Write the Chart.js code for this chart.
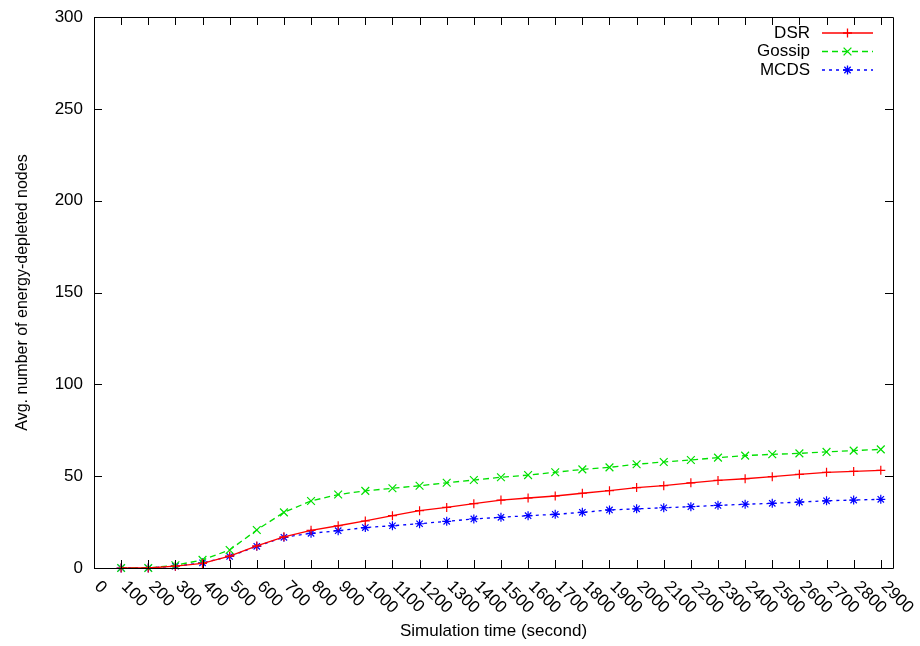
<!DOCTYPE html>
<html>
<head>
<meta charset="utf-8">
<script src="https://cdn.jsdelivr.net/npm/chart.js@4.4.1/dist/chart.umd.min.js"></script>
<style>
  html, body { margin: 0; padding: 0; background: #ffffff; }
  #chart { display: block; }
</style>
</head>
<body>
<canvas id="chart" width="920" height="646"></canvas>
<script>
const times = [100, 200, 300, 400, 500, 600, 700, 800, 900, 1000,
  1100, 1200, 1300, 1400, 1500, 1600, 1700, 1800, 1900, 2000,
  2100, 2200, 2300, 2400, 2500, 2600, 2700, 2800, 2900];
const dsr = [0, 0, 1, 2.5, 6.5, 12, 17, 20.5, 23, 25.6,
  28.5, 31.2, 33, 35, 37, 38.1, 39.2, 40.7, 42.1, 43.8,
  44.8, 46.4, 47.7, 48.6, 49.7, 51, 52.1, 52.6, 53.2];
const gossip = [0, 0, 1.5, 4.4, 9.8, 20.7, 30.3, 36.5, 40, 42,
  43.4, 44.8, 46.4, 47.9, 49.4, 50.6, 52.1, 53.7, 54.8, 56.5,
  57.7, 58.8, 60.1, 61.2, 61.9, 62.4, 63.2, 63.9, 64.6];
const mcds = [0, 0, 1, 2.8, 6.3, 11.8, 16.7, 18.9, 20.3, 22,
  23, 24.1, 25.4, 26.7, 27.6, 28.5, 29.2, 30.3, 31.6, 32.2,
  32.8, 33.4, 34.1, 34.7, 35.2, 35.9, 36.6, 37, 37.4];
const xTicks = [0, 100, 200, 300, 400, 500, 600, 700, 800, 900, 1000,
  1100, 1200, 1300, 1400, 1500, 1600, 1700, 1800, 1900, 2000,
  2100, 2200, 2300, 2400, 2500, 2600, 2700, 2800, 2900];
const yTicks = [0, 50, 100, 150, 200, 250, 300];
const seriesColors = ["#ff0000", "#00e000", "#0000ff"];

const FONT = "'Liberation Sans', Arial, sans-serif";
const pts = (ys) => ys.map((y, i) => ({ x: times[i], y: y }));

// gnuplot-like frame with inward ticks, rotated x labels and key
const gnuplotFrame = {
  id: "gnuplotFrame",
  afterDraw(chart) {
    const { ctx, chartArea: a, scales } = chart;
    const xs = scales.x, ys = scales.y;
    const tl = 8;
    ctx.save();
    ctx.strokeStyle = "#000";
    ctx.lineWidth = 1;
    ctx.beginPath();
    xs.ticks.forEach((t) => {
      const px = Math.round(xs.getPixelForValue(t.value)) + 0.5;
      ctx.moveTo(px, a.bottom); ctx.lineTo(px, a.bottom - tl);
      ctx.moveTo(px, a.top); ctx.lineTo(px, a.top + tl);
    });
    ys.ticks.forEach((t) => {
      const py = Math.round(ys.getPixelForValue(t.value)) + 0.5;
      ctx.moveTo(a.left, py); ctx.lineTo(a.left + tl, py);
      ctx.moveTo(a.right, py); ctx.lineTo(a.right - tl, py);
    });
    ctx.stroke();
    ctx.beginPath();
    ctx.rect(Math.round(a.left) + 0.5, Math.round(a.top) + 0.5,
      Math.round(a.right - a.left), Math.round(a.bottom - a.top));
    ctx.stroke();

    // x tick labels, turned 45 degrees clockwise
    ctx.fillStyle = "#000";
    ctx.font = "17px " + FONT;
    ctx.textAlign = "left";
    ctx.textBaseline = "middle";
    xs.ticks.forEach((t) => {
      const px = xs.getPixelForValue(t.value);
      ctx.save();
      ctx.translate(px + 3, a.bottom + 16);
      ctx.rotate(Math.PI / 4);
      ctx.fillText(String(t.value), 0, 0);
      ctx.restore();
    });
    ctx.restore();

    // key, top right
    const textRight = 810, lineL = 822, lineR = 873;
    chart.data.datasets.forEach((ds, i) => {
      const y = 33 + i * 18.5;
      const col = seriesColors[i];
      ctx.save();
      ctx.font = "17px " + FONT;
      ctx.textBaseline = "middle";
      ctx.fillStyle = "#000";
      ctx.textAlign = "right";
      ctx.fillText(ds.label, textRight, y);
      ctx.lineWidth = 1.3;
      ctx.setLineDash(ds.borderDash || []);
      ctx.beginPath();
      ctx.moveTo(lineL, y);
      ctx.lineTo(lineR, y);
      ctx.strokeStyle = col;
      ctx.stroke();
      ctx.setLineDash([]);
      ctx.strokeStyle = col;
      ctx.fillStyle = col;
      Chart.helpers.drawPoint(ctx, {
        pointStyle: ds.pointStyle, radius: ds.pointRadius,
        borderWidth: 1.2, rotation: 0
      }, (lineL + lineR) / 2, y);
      ctx.restore();
    });
  }
};

new Chart(document.getElementById("chart"), {
  type: "line",
  data: {
    datasets: [
      {
        label: "DSR",
        data: pts(dsr),
        borderColor: seriesColors[0],
        backgroundColor: seriesColors[0],
        borderWidth: 1.3,
        pointStyle: "cross",
        pointRadius: 4.5,
        pointBorderWidth: 1.2,
        clip: false
      },
      {
        label: "Gossip",
        data: pts(gossip),
        borderColor: seriesColors[1],
        backgroundColor: seriesColors[1],
        borderWidth: 1.3,
        borderDash: [6, 4],
        pointStyle: "crossRot",
        pointRadius: 5.5,
        pointBorderWidth: 1.2,
        clip: false
      },
      {
        label: "MCDS",
        data: pts(mcds),
        borderColor: seriesColors[2],
        backgroundColor: seriesColors[2],
        borderWidth: 1.3,
        borderDash: [3, 4],
        pointStyle: "star",
        pointRadius: 4.5,
        pointBorderWidth: 1.2,
        clip: false
      }
    ]
  },
  options: {
    responsive: false,
    animation: false,
    layout: { padding: { top: 17, right: 27, left: 0, bottom: 0 } },
    plugins: {
      legend: { display: false },
      tooltip: { enabled: false }
    },
    scales: {
      x: {
        type: "linear",
        min: 0,
        max: 2945,
        afterBuildTicks: (s) => { s.ticks = xTicks.map((v) => ({ value: v })); },
        afterFit: (s) => { s.height = 78; s.paddingLeft = 0; s.paddingRight = 0; },
        grid: { display: false, drawTicks: false },
        border: { display: false },
        ticks: { display: false },
        title: {
          display: true,
          text: "Simulation time (second)",
          color: "#000",
          font: { family: FONT, size: 17 },
          padding: { top: 0, bottom: 4 }
        }
      },
      y: {
        min: 0,
        max: 300,
        afterBuildTicks: (s) => { s.ticks = yTicks.map((v) => ({ value: v })); },
        afterFit: (s) => { s.width = 94; s.paddingTop = 0; s.paddingBottom = 0; },
        grid: { display: false, drawTicks: false },
        border: { display: false },
        ticks: {
          color: "#000",
          padding: 11,
          font: { family: FONT, size: 17 }
        },
        title: {
          display: true,
          text: "Avg. number of energy-depleted nodes",
          color: "#000",
          font: { family: FONT, size: 16 },
          padding: { top: 13, bottom: 0 }
        }
      }
    }
  },
  plugins: [gnuplotFrame]
});
</script>
</body>
</html>
